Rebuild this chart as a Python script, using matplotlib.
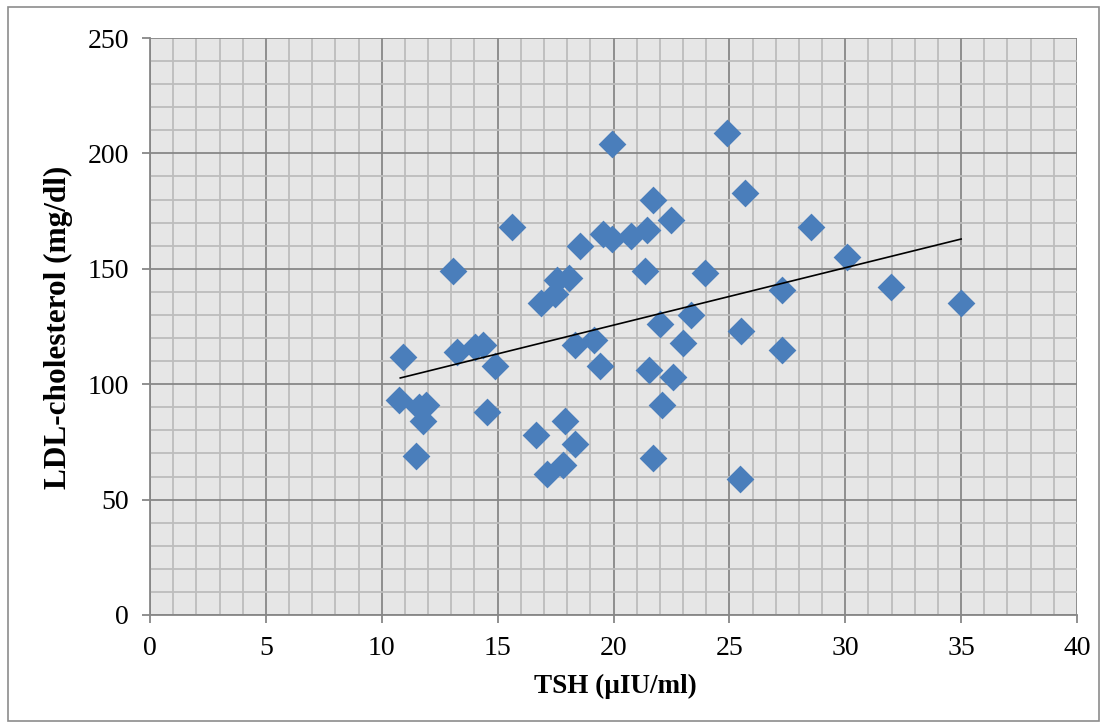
import numpy as np
import matplotlib
matplotlib.use("Agg")
import matplotlib.pyplot as plt
from matplotlib.patches import Rectangle
from matplotlib.ticker import MultipleLocator

tsh = [10.93, 10.74, 11.6, 11.9, 11.8, 11.48, 13.09, 13.24, 14.02, 14.36, 14.89, 14.53,
       15.63, 16.66, 16.86, 17.48, 17.55, 18.09, 17.9, 18.34, 17.15, 17.8, 18.55, 18.34,
       19.16, 19.42, 19.53, 19.92, 19.92, 20.75, 21.46, 21.72, 22.48, 21.36, 22.0, 21.55,
       22.58, 22.08, 21.69, 23.01, 23.34, 23.95, 24.88, 25.67, 25.49, 27.29, 27.29, 28.52,
       30.06, 31.96, 34.98, 25.46]
ldl = [112, 93, 90, 91, 84, 69, 149, 114, 116, 117, 108, 88,
       168, 78, 135, 139, 145, 146, 84, 74, 61, 65, 160, 117,
       119, 108, 165, 163, 204, 164, 167, 180, 171, 149, 126, 106,
       103, 91, 68, 118, 130, 148, 209, 183, 123, 141, 115, 168,
       155, 142, 135, 59]
trend_x = [10.8, 35.0]
trend_y = [102.7, 162.9]

plt.rcParams['font.family'] = ['Liberation Serif', 'DejaVu Serif']

W, H = 1107, 728
fig = plt.figure(figsize=(W / 100, H / 100), dpi=100)
ax = fig.add_axes([150/W, 1-615/H, (1077-150)/W, (615-38)/H])
ax.set_facecolor('#e6e6e6')
ax.set_xlim(0, 40)
ax.set_ylim(0, 250)
ax.xaxis.set_major_locator(MultipleLocator(5))
ax.xaxis.set_minor_locator(MultipleLocator(1))
ax.yaxis.set_major_locator(MultipleLocator(50))
ax.yaxis.set_minor_locator(MultipleLocator(10))
ax.grid(which='minor', color='#bdbdbd', linewidth=1.3)
ax.grid(which='major', color='#878787', linewidth=1.3)
ax.set_axisbelow(True)
for s in ['top', 'right']:
    ax.spines[s].set_visible(False)
for s in ['left', 'bottom']:
    ax.spines[s].set_color('#878787')
    ax.spines[s].set_linewidth(1.3)
ax.tick_params(which='major', length=6, color='#878787', width=1.3, labelsize=20)
ax.tick_params(which='minor', length=0)
ax.tick_params(axis='x', pad=9)
ax.tick_params(axis='y', pad=9)

ax.scatter(tsh, ldl, marker='D', s=200, color='#4a7ebb', zorder=3, linewidths=0)
ax.plot(trend_x, trend_y, color='black', linewidth=1.2, zorder=4)

fig.text(615/W, 1-686/H, 'TSH (µIU/ml)', fontsize=19.5, fontweight='bold',
         ha='center', va='center')
fig.text(58/W, 1-327/H, 'LDL-cholesterol (mg/dl)', fontsize=22.5, fontweight='bold',
         ha='center', va='center', rotation=90)

fig.patches.append(Rectangle((8/W, 1-721/H), (1099-8)/W, (721-7)/H,
                             transform=fig.transFigure, fill=False,
                             edgecolor='#8c8c8c', linewidth=1.2))
fig.savefig('out.png', dpi=100)
